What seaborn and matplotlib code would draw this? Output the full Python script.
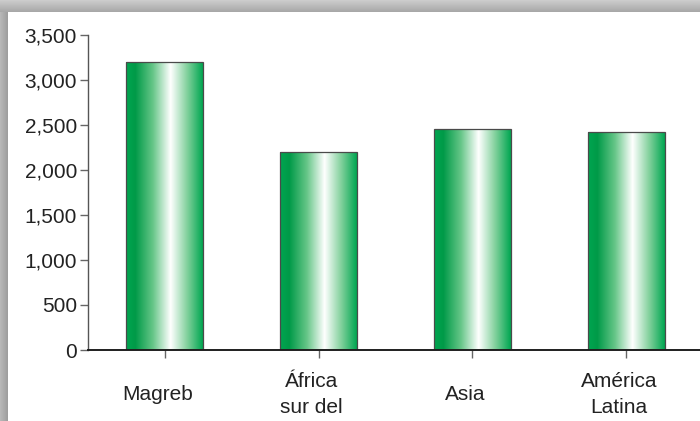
import numpy as np
import pandas as pd
import matplotlib
matplotlib.use("Agg")
import matplotlib.pyplot as plt
from matplotlib.colors import LinearSegmentedColormap
from matplotlib.transforms import ScaledTranslation
import seaborn as sns

# data
regions = ["Magreb", "África\nsur del", "Asia", "América\nLatina"]
values = [3200, 2200, 2450, 2420]
yticks = [0, 500, 1000, 1500, 2000, 2500, 3000, 3500]

GREEN = "#00a651"
TXT = "#222222"

sns.set_theme(style="white")
plt.rcParams["font.family"] = ["Liberation Sans", "DejaVu Sans"]

fig = plt.figure(figsize=(7, 4.21), dpi=100)
fig.patch.set_facecolor("white")

# ── grey frame behind the white panel ──────────────────────────
bg = fig.add_axes([0, 0, 1, 1], zorder=-5)
frame = np.ones((421, 700, 3))
top = np.linspace(0.80, 0.66, 12)
frame[:12, :, :] = top[:, None, None]
left = np.linspace(0.72, 0.62, 8)
frame[12:, :8, :] = left[None, :, None]
bg.imshow(frame, aspect="auto", extent=[0, 1, 0, 1], interpolation="bilinear")
bg.axis("off")

# ── bar chart ──────────────────────────────────────────────────
ax = fig.add_axes([88 / 700, 71 / 421, 615 / 700, 315 / 421])
df = pd.DataFrame({"region": regions, "value": values})
sns.barplot(data=df, x="region", y="value", color=GREEN, width=0.5,
            saturation=1, ax=ax)

cmap = LinearSegmentedColormap.from_list(
    "tube",
    [(0.0, "#00a651"), (0.12, "#009a48"), (0.35, "#66c688"),
     (0.58, "#ffffff"), (0.80, "#80d09b"), (1.0, "#00a651")])
grad = np.linspace(0, 1, 256)[None, :]
for p in ax.patches:
    x0, y0 = p.get_x(), p.get_y()
    w, h = p.get_width(), p.get_height()
    im = ax.imshow(grad, cmap=cmap, aspect="auto",
                   extent=[x0, x0 + w, y0, y0 + h], zorder=2)
    im.set_clip_path(p)
    p.set_facecolor("none")
    p.set_edgecolor("#4a4a4a")
    p.set_linewidth(0.9)
    p.set_zorder(3)

ax.set_xlim(-0.5, 3.5)
ax.set_ylim(0, 3500)
ax.set_yticks(yticks)
ax.set_yticklabels([f"{v:,}" for v in yticks])
ax.set_xlabel("")
ax.set_ylabel("")
ax.set_facecolor("none")

sns.despine(ax=ax, top=True, right=True)
ax.spines["left"].set_color("#555555")
ax.spines["left"].set_linewidth(1.0)
ax.spines["bottom"].set_color("#1e1e1e")
ax.spines["bottom"].set_linewidth(1.4)
ax.spines["bottom"].set_zorder(4)

ax.tick_params(axis="y", length=6, width=1, color="#666666",
               labelsize=15, labelcolor=TXT, pad=2, left=True)
ax.tick_params(axis="x", length=6, width=1, color="#666666",
               labelsize=15, labelcolor=TXT, pad=26, bottom=True)
shift = ScaledTranslation(-7 / 100, 0, fig.dpi_scale_trans)
for lab in ax.get_xticklabels():
    lab.set_va("center")
    lab.set_linespacing(1.45)
    lab.set_transform(lab.get_transform() + shift)

fig.savefig("out.png", dpi=100, facecolor=fig.get_facecolor())
plt.close(fig)
